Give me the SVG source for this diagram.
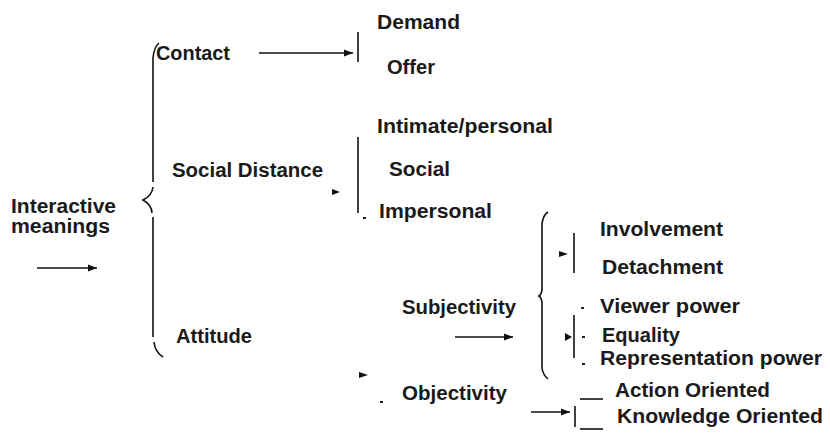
<svg xmlns="http://www.w3.org/2000/svg" width="830" height="434" viewBox="0 0 830 434">
<defs>
<marker id="ah" markerWidth="10" markerHeight="8" refX="9" refY="4" orient="auto" markerUnits="userSpaceOnUse">
<path d="M0,0.5 L9,4 L0,7.5 Z" fill="#111"/>
</marker>
<style>
text{font-family:"Liberation Sans",Arial,sans-serif;font-size:20px;font-weight:bold;fill:#1a1a1a}
.ln{stroke:#111;stroke-width:1.6;fill:none}
.tri{fill:#111}
.dot{fill:#222}
</style>
</defs>
<rect width="830" height="434" fill="#fff"/>
<g id="connectors">
<path class="ln" d="M159,43 Q154,47 153,58 L153,182"/>
<path class="ln" d="M153,187 Q152,196 143,200 Q152,205 152,213"/>
<path class="ln" d="M153,217 L153,337"/>
<path class="ln" d="M154,342 Q155,352 163,357"/>
<line class="ln" x1="37" y1="268" x2="97" y2="268" marker-end="url(#ah)"/>
<line class="ln" x1="259" y1="53" x2="353" y2="53" marker-end="url(#ah)"/>
<line class="ln" x1="358" y1="32" x2="358" y2="62"/>
<path class="tri" d="M332,189 L340,192 L332,195 Z"/>
<line class="ln" x1="358" y1="137" x2="358" y2="213"/>
<rect class="dot" x="363" y="217" width="3" height="2"/>
<path class="tri" d="M359,372 L368,375 L359,378 Z"/>
<rect class="dot" x="380" y="401" width="3" height="2"/>
<line class="ln" x1="455" y1="337" x2="513" y2="337" marker-end="url(#ah)"/>
<path class="ln" d="M548,212 Q543,215 542,224 L542,290 Q541,295 539,296 Q541,297 542,302 L542,368 Q543,375 548,379"/>
<path class="tri" d="M559,251 L568,254 L559,257 Z"/>
<line class="ln" x1="574" y1="233" x2="574" y2="273"/>
<rect class="dot" x="581" y="307" width="3" height="2"/>
<path class="tri" d="M565,333 L572,337 L565,341 Z"/>
<line class="ln" x1="574" y1="315" x2="574" y2="358"/>
<rect class="dot" x="582" y="336" width="3" height="2"/>
<rect class="dot" x="582" y="363" width="3" height="2"/>
<line class="ln" x1="531" y1="412" x2="570" y2="412" marker-end="url(#ah)"/>
<line class="ln" x1="575" y1="406" x2="575" y2="427"/>
<line class="ln" x1="580" y1="399" x2="603" y2="399"/>
<line class="ln" x1="580" y1="429" x2="603" y2="429"/>
</g>
<g id="n-interactive"><text x="11" y="213" textLength="105" lengthAdjust="spacingAndGlyphs">Interactive</text><text x="11" y="233" textLength="99" lengthAdjust="spacingAndGlyphs">meanings</text></g>
<g id="n-contact"><text x="156" y="60" textLength="74" lengthAdjust="spacingAndGlyphs">Contact</text></g>
<g id="n-demand"><text x="377" y="29" textLength="83" lengthAdjust="spacingAndGlyphs">Demand</text></g>
<g id="n-offer"><text x="387" y="74" textLength="48" lengthAdjust="spacingAndGlyphs">Offer</text></g>
<g id="n-social-distance"><text x="172" y="177" textLength="151" lengthAdjust="spacingAndGlyphs">Social Distance</text></g>
<g id="n-intimate"><text x="377" y="133" textLength="176" lengthAdjust="spacingAndGlyphs">Intimate/personal</text></g>
<g id="n-social"><text x="389" y="176" textLength="61" lengthAdjust="spacingAndGlyphs">Social</text></g>
<g id="n-impersonal"><text x="379" y="218" textLength="113" lengthAdjust="spacingAndGlyphs">Impersonal</text></g>
<g id="n-attitude"><text x="176" y="343" textLength="76" lengthAdjust="spacingAndGlyphs">Attitude</text></g>
<g id="n-subjectivity"><text x="402" y="314" textLength="114" lengthAdjust="spacingAndGlyphs">Subjectivity</text></g>
<g id="n-objectivity"><text x="402" y="400" textLength="105" lengthAdjust="spacingAndGlyphs">Objectivity</text></g>
<g id="n-involvement"><text x="600" y="236" textLength="123" lengthAdjust="spacingAndGlyphs">Involvement</text></g>
<g id="n-detachment"><text x="602" y="274" textLength="121" lengthAdjust="spacingAndGlyphs">Detachment</text></g>
<g id="n-viewer-power"><text x="600" y="313" textLength="140" lengthAdjust="spacingAndGlyphs">Viewer power</text></g>
<g id="n-equality"><text x="602" y="342" textLength="78" lengthAdjust="spacingAndGlyphs">Equality</text></g>
<g id="n-representation-power"><text x="600" y="365" textLength="222" lengthAdjust="spacingAndGlyphs">Representation power</text></g>
<g id="n-action"><text x="615" y="397" textLength="155" lengthAdjust="spacingAndGlyphs">Action Oriented</text></g>
<g id="n-knowledge"><text x="617" y="423" textLength="206" lengthAdjust="spacingAndGlyphs">Knowledge Oriented</text></g>
</svg>
